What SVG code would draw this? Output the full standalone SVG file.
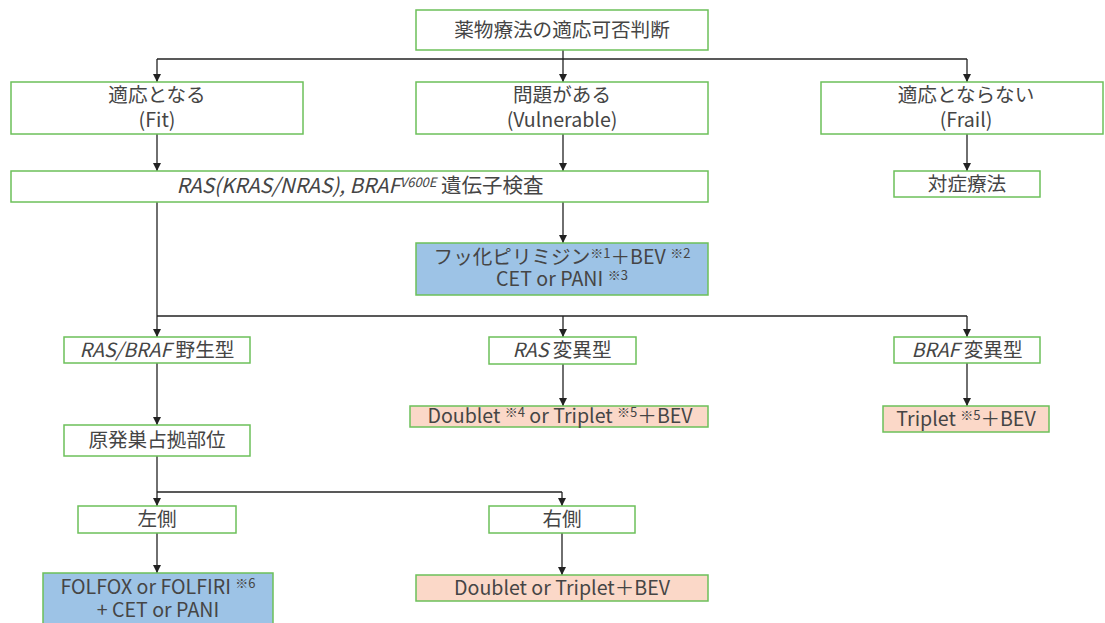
<svg xmlns="http://www.w3.org/2000/svg" width="1105" height="623" viewBox="0 0 1105 623">
<style>
.box{fill:#ffffff;stroke:#6cc05a;stroke-width:1.5}
.blue{fill:#9dc3e6;stroke:#6cc05a;stroke-width:1.5}
.peach{fill:#fbd8c8;stroke:#6cc05a;stroke-width:1.5}
text{font-family:"Noto Sans CJK JP","Noto Sans",sans-serif;font-size:19.6px;fill:#454545;text-anchor:middle}
.it{font-style:italic}
.sup{font-size:13px}
.wide{font-size:20.5px}
.ln{stroke:#222;stroke-width:1.3;fill:none}
</style>
<defs>
<marker id="ah" viewBox="0 0 10 10" refX="10" refY="5" markerWidth="8" markerHeight="8" markerUnits="userSpaceOnUse" orient="auto">
<path d="M0,0 L10,5 L0,10 z" fill="#222"/>
</marker>
</defs>
<rect width="1105" height="623" fill="#ffffff"/>
<g id="connectors">
<line class="ln" x1="563" y1="50" x2="563" y2="59"/>
<line class="ln" x1="157" y1="59" x2="967" y2="59"/>
<line class="ln" x1="157" y1="59" x2="157" y2="82" marker-end="url(#ah)"/>
<line class="ln" x1="563" y1="59" x2="563" y2="82" marker-end="url(#ah)"/>
<line class="ln" x1="967" y1="59" x2="967" y2="82" marker-end="url(#ah)"/>
<line class="ln" x1="157" y1="134" x2="157" y2="171" marker-end="url(#ah)"/>
<line class="ln" x1="563" y1="134" x2="563" y2="171" marker-end="url(#ah)"/>
<line class="ln" x1="967" y1="134" x2="967" y2="171" marker-end="url(#ah)"/>
<line class="ln" x1="563" y1="202" x2="563" y2="243" marker-end="url(#ah)"/>
<line class="ln" x1="157" y1="202" x2="157" y2="337" marker-end="url(#ah)"/>
<line class="ln" x1="157" y1="316" x2="967" y2="316"/>
<line class="ln" x1="563" y1="316" x2="563" y2="337" marker-end="url(#ah)"/>
<line class="ln" x1="967" y1="316" x2="967" y2="337" marker-end="url(#ah)"/>
<line class="ln" x1="157" y1="363" x2="157" y2="425" marker-end="url(#ah)"/>
<line class="ln" x1="563" y1="364" x2="563" y2="406" marker-end="url(#ah)"/>
<line class="ln" x1="967" y1="363" x2="967" y2="406" marker-end="url(#ah)"/>
<line class="ln" x1="157" y1="456" x2="157" y2="506" marker-end="url(#ah)"/>
<line class="ln" x1="157" y1="492" x2="562" y2="492"/>
<line class="ln" x1="562" y1="492" x2="562" y2="506" marker-end="url(#ah)"/>
<line class="ln" x1="157" y1="533" x2="157" y2="573" marker-end="url(#ah)"/>
<line class="ln" x1="562" y1="533" x2="562" y2="575" marker-end="url(#ah)"/>
</g>
<g id="n_top"><rect class="box" x="416" y="10" width="292" height="40"/><text x="562" y="37">薬物療法の適応可否判断</text></g>
<g id="n_fit"><rect class="box" x="11" y="82" width="292" height="52"/><text x="157" y="102">適応となる</text><text x="157" y="127">(Fit)</text></g>
<g id="n_vul"><rect class="box" x="416" y="82" width="292" height="52"/><text x="562" y="102">問題がある</text><text x="562" y="127">(Vulnerable)</text></g>
<g id="n_frail"><rect class="box" x="821" y="82" width="282" height="52"/><text x="966" y="102">適応とならない</text><text x="966" y="127">(Frail)</text></g>
<g id="n_test"><rect class="box" x="11" y="171" width="697" height="31"/><text class="wide" x="360" y="193"><tspan class="it">RAS(KRAS/NRAS), BRAF</tspan><tspan class="it sup" dy="-6">V600E</tspan><tspan dy="6"> 遺伝子検査</tspan></text></g>
<g id="n_sym"><rect class="box" x="894" y="171" width="146" height="26"/><text x="967" y="191">対症療法</text></g>
<g id="n_fp"><rect class="blue" x="416" y="243" width="292" height="52"/><text x="562" y="264">フッ化ピリミジン<tspan class="sup" dy="-6">※1</tspan><tspan dy="6">＋BEV </tspan><tspan class="sup" dy="-6">※2</tspan></text><text x="562" y="286">CET or PANI <tspan class="sup" dy="-6">※3</tspan></text></g>
<g id="n_wt"><rect class="box" x="64" y="337" width="186" height="26"/><text x="157" y="357"><tspan class="it">RAS/BRAF</tspan> 野生型</text></g>
<g id="n_ras"><rect class="box" x="489" y="337" width="147" height="27"/><text x="562" y="357"><tspan class="it">RAS</tspan> 変異型</text></g>
<g id="n_braf"><rect class="box" x="894" y="337" width="146" height="26"/><text x="967" y="357"><tspan class="it">BRAF</tspan> 変異型</text></g>
<g id="n_rasrx"><rect class="peach" x="410" y="406" width="298" height="21"/><text x="560" y="423">Doublet <tspan class="sup" dy="-6">※4</tspan><tspan dy="6"> or Triplet </tspan><tspan class="sup" dy="-6">※5</tspan><tspan dy="6">＋BEV</tspan></text></g>
<g id="n_brafrx"><rect class="peach" x="883" y="406" width="166" height="26"/><text x="966" y="426">Triplet <tspan class="sup" dy="-6">※5</tspan><tspan dy="6">＋BEV</tspan></text></g>
<g id="n_site"><rect class="box" x="64" y="425" width="186" height="31"/><text x="157" y="447">原発巣占拠部位</text></g>
<g id="n_left"><rect class="box" x="78" y="506" width="158" height="27"/><text x="157" y="526">左側</text></g>
<g id="n_right"><rect class="box" x="489" y="506" width="146" height="27"/><text x="562" y="526">右側</text></g>
<g id="n_leftrx"><rect class="blue" x="43" y="573" width="230" height="56"/><text x="158" y="594">FOLFOX or FOLFIRI <tspan class="sup" dy="-6">※6</tspan></text><text x="158" y="617">+ CET or PANI</text></g>
<g id="n_rightrx"><rect class="peach" x="416" y="575" width="292" height="26"/><text x="562" y="595">Doublet or Triplet＋BEV</text></g>
</svg>
